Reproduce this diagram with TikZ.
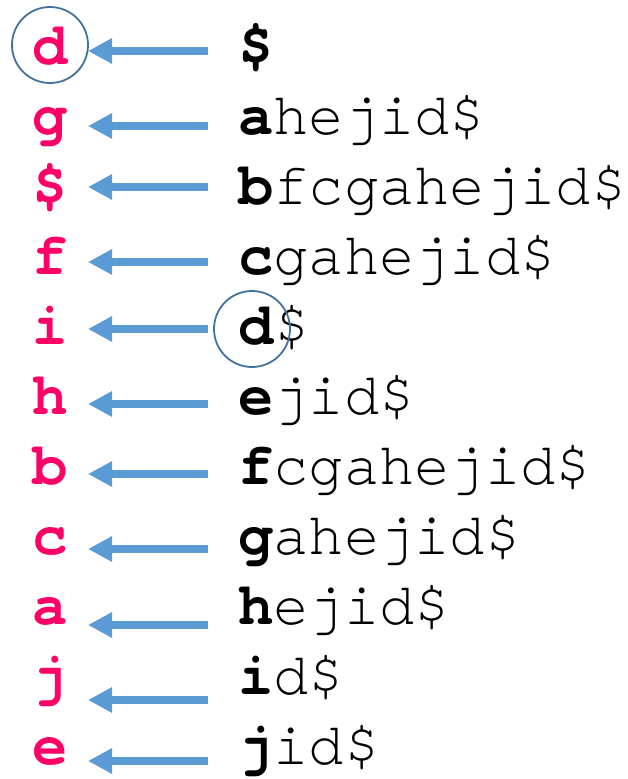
\documentclass[tikz,border=0pt]{standalone}
\usepackage{fontspec}
\setmonofont{TeX Gyre Cursor}[FakeStretch=0.98]
\usepackage{tikz}
\usetikzlibrary{arrows.meta}

\definecolor{keypink}{RGB}{255,0,102}
\definecolor{arrowblue}{RGB}{91,155,213}
\definecolor{ringblue}{RGB}{65,113,156}

\newcommand\rowfont{\ttfamily\fontsize{60}{60}\selectfont}

\begin{document}
\begin{tikzpicture}[x=1pt, y=-1pt,
    prev/.style={inner sep=0pt, anchor=base, text=keypink, font=\rowfont\bfseries},
    suffix/.style={inner sep=0pt, anchor=base west, font=\rowfont},
    link/.style={line width=8pt, arrowblue, -{Triangle[length=24pt,width=24pt]}},
    ring/.style={circle, draw=ringblue, line width=1.8pt, minimum size=76pt, inner sep=0pt}]

  \useasboundingbox (0,0) rectangle (627,779);

  % one row per suffix: preceding char, first char, rest, arrow height
  \foreach \k/\p/\f/\r/\ay in {
    1/d/\$//51,
    2/g/a/hejid\$/126,
    3/\$/b/fcgahejid\$/187,
    4/f/c/gahejid\$/262,
    5/i/d/\$/329,
    6/h/e/jid\$/404,
    7/b/f/cgahejid\$/474,
    8/c/g/ahejid\$/549,
    9/a/h/ejid\$/625,
    10/j/i/d\$/700,
    11/e/j/id\$/761%
  } {
    \node[prev] (prev-\k) at (50,{64+70*(\k-1)}) {\p};
    \node[suffix] (suf-\k) at (238,{64+70*(\k-1)}) {\textbf{\f}\r};

    % arrow from the suffix back to its preceding char
    \coordinate (tail-\k) at (208,\ay);
    \coordinate (tip-\k) at (88,\ay);
    \draw[link] (tail-\k) -- (tip-\k);
  }

  % mark the two d's
  \node[ring] (ring-prev) at (50,45) {};
  \node[ring] (ring-suf) at (252,329) {};
\end{tikzpicture}
\end{document}
